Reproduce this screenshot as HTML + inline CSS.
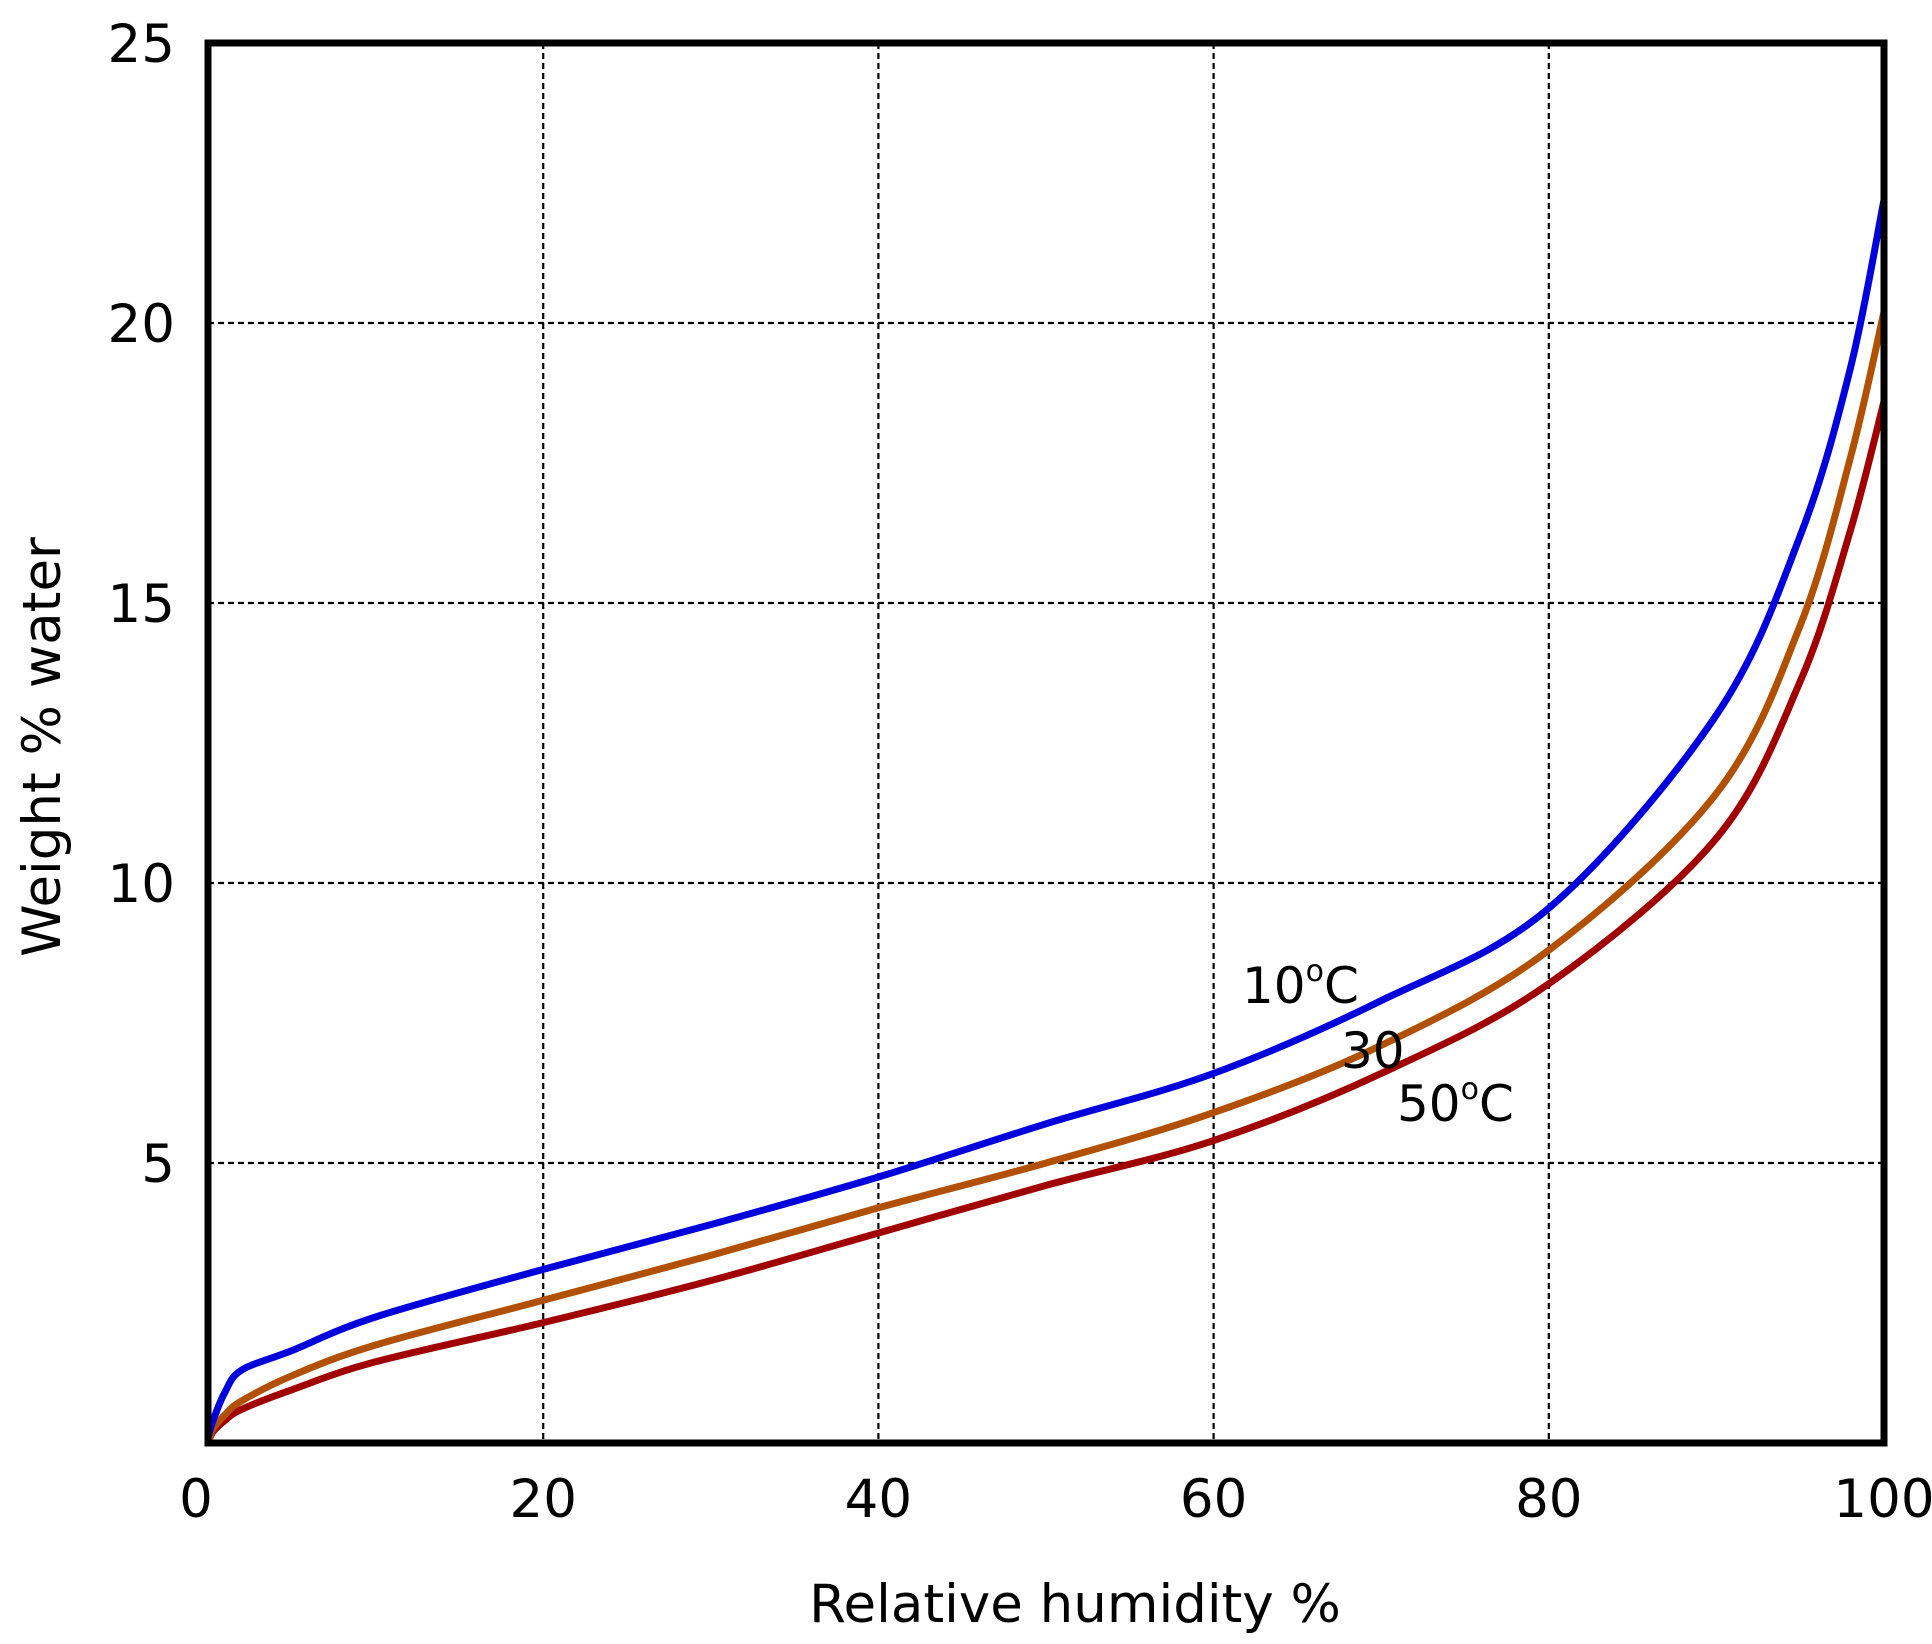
<!DOCTYPE html>
<html><head><meta charset="utf-8"><style>
html,body{margin:0;padding:0;background:#fff;}
svg{display:block;font-family:"DejaVu Sans","Liberation Sans",sans-serif;}
</style></head><body>
<svg id="chart" width="1932" height="1644" viewBox="0 0 1932 1644">
<g id="grid"></g>
<g id="series"></g>
<rect x="208" y="43" width="1676" height="1400" fill="none" stroke="#000" stroke-width="7"/>
<g id="ticks"></g>
<text x="1075" y="1622" font-size="53" text-anchor="middle">Relative humidity %</text>
<text transform="translate(60,747) rotate(-90)" font-size="53" text-anchor="middle">Weight % water</text>
<text x="1242" y="1003" font-size="50">10<tspan font-size="30" dy="-22">o</tspan><tspan dy="22">C</tspan></text>
<text x="1341" y="1068" font-size="50">30</text>
<text x="1397" y="1121" font-size="50">50<tspan font-size="30" dy="-22">o</tspan><tspan dy="22">C</tspan></text>
</svg>
<script>
const xs = [0, 0.3, 1, 2, 5, 10, 20, 30, 40, 50, 60, 70, 80, 90, 95, 98, 100];
const blue10 = [0.1, 0.4, 0.9, 1.3, 1.65, 2.25, 3.1, 3.9, 4.75, 5.7, 6.6, 7.9, 9.55, 13.0, 16.2, 19.2, 22.2];
const orange30 = [0.0, 0.25, 0.5, 0.75, 1.2, 1.75, 2.55, 3.35, 4.2, 5.0, 5.9, 7.1, 8.8, 11.6, 14.6, 17.6, 20.2];
const red50 = [0.0, 0.2, 0.4, 0.6, 0.95, 1.45, 2.15, 2.9, 3.75, 4.6, 5.4, 6.6, 8.2, 10.8, 13.6, 16.3, 18.6];
const xTicks = [0, 20, 40, 60, 80, 100];
const yTicks = [5, 10, 15, 20, 25];
const X0=208, X1=1884, Y0=1443, Y1=43;
function xs_(v){return X0+(X1-X0)*v/100;}
function ys_(v){return Y0-(Y0-Y1)*v/25;}
const NS='http://www.w3.org/2000/svg';
const grid=document.getElementById('grid'), ticks=document.getElementById('ticks'), ser=document.getElementById('series');
xTicks.forEach(v=>{
  if(v>0&&v<100){
    const l=document.createElementNS(NS,'line');
    
    
    l.setAttribute('x1',xs_(v));l.setAttribute('x2',xs_(v));l.setAttribute('y1',Y1);l.setAttribute('y2',Y0);
    l.setAttribute('stroke','#000');l.setAttribute('stroke-width','2.2');l.setAttribute('stroke-dasharray','6,4');
    grid.appendChild(l);
  }
  const t=document.createElementNS(NS,'text');
  
  
  t.setAttribute('x',v===0?196:xs_(v));t.setAttribute('y',1517);t.setAttribute('font-size','53');t.setAttribute('text-anchor','middle');
  t.textContent=v;ticks.appendChild(t);
});
yTicks.forEach(v=>{
  if(v<25){
    const l=document.createElementNS(NS,'line');
    
    
    l.setAttribute('x1',X0);l.setAttribute('x2',X1);l.setAttribute('y1',ys_(v));l.setAttribute('y2',ys_(v));
    l.setAttribute('stroke','#000');l.setAttribute('stroke-width','2.2');l.setAttribute('stroke-dasharray','6,4');
    grid.appendChild(l);
  }
  const t=document.createElementNS(NS,'text');
  
  
  t.setAttribute('x',175);t.setAttribute('y',ys_(v)+19);t.setAttribute('font-size','53');t.setAttribute('text-anchor','end');
  t.textContent=v;ticks.appendChild(t);
});
function pathFor(vals){
  const p=xs.map((x,i)=>[xs_(x),ys_(vals[i])]);
  let d='M'+p[0][0]+','+p[0][1];
  for(let i=0;i<p.length-1;i++){
    const a=p[Math.max(0,i-1)],b=p[i],c=p[i+1],e=p[Math.min(p.length-1,i+2)];
    const c1=[b[0]+(c[0]-a[0])/6,b[1]+(c[1]-a[1])/6],c2=[c[0]-(e[0]-b[0])/6,c[1]-(e[1]-b[1])/6];
    d+=' C'+c1[0]+','+c1[1]+' '+c2[0]+','+c2[1]+' '+c[0]+','+c[1];
  }
  return d;
}
[[red50,'#a00000','line-50c'],[orange30,'#b05000','line-30c'],[blue10,'#0000dd','line-10c']].forEach(s=>{
  const pa=document.createElementNS(NS,'path');
  
  
  pa.setAttribute('d',pathFor(s[0]));pa.setAttribute('fill','none');pa.setAttribute('stroke',s[1]);
  pa.setAttribute('stroke-width','7');pa.setAttribute('stroke-linecap','round');
  ser.appendChild(pa);
});
</script>
</body></html>
